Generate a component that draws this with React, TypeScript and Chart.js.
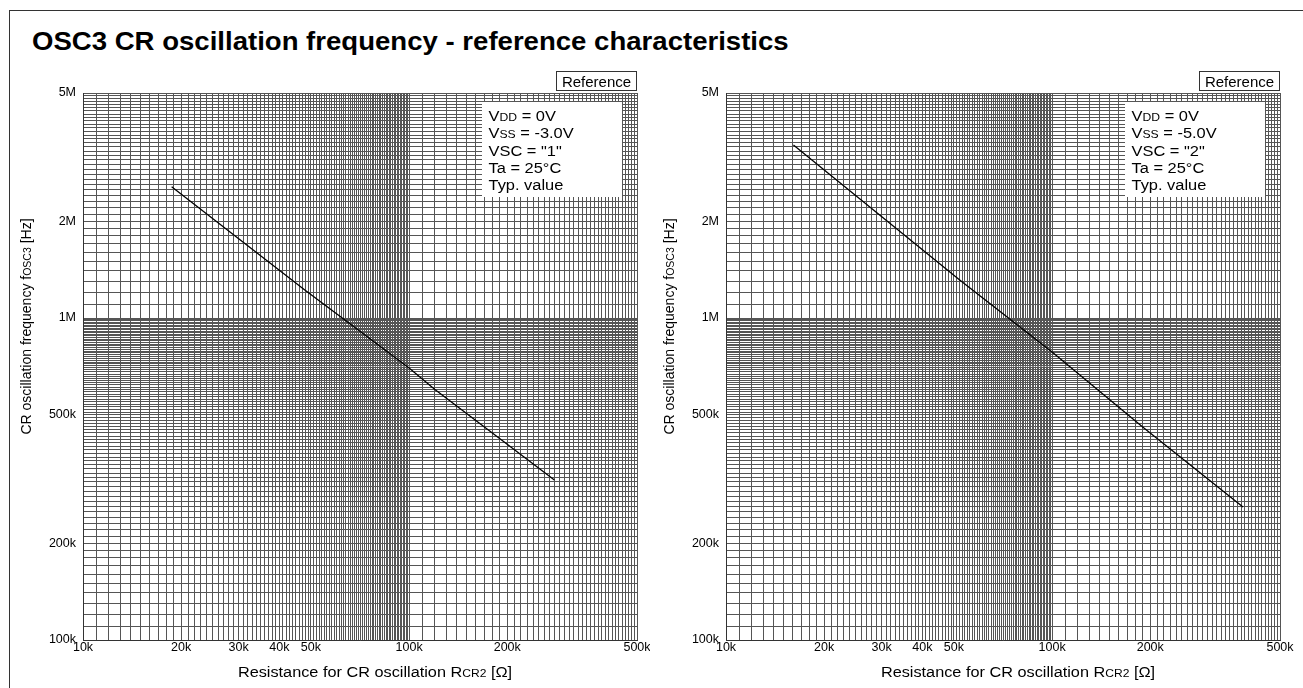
import React, { useEffect, useRef } from 'react';
import { Chart, registerables } from 'chart.js';

Chart.register(...registerables);

const FAMILY = '"Liberation Sans", Arial, Helvetica, sans-serif';

// Axis ranges and labelled ticks
const X_MIN = 10000;
const X_MAX = 500000;
const Y_MIN = 100000;
const Y_MAX = 5000000;
const X_LABEL_VALUES = [10000, 20000, 30000, 40000, 50000, 100000, 200000, 500000];
const X_LABELS = ['10k', '20k', '30k', '40k', '50k', '100k', '200k', '500k'];
const Y_LABEL_VALUES = [100000, 200000, 500000, 1000000, 2000000, 5000000];
const Y_LABELS = ['100k', '200k', '500k', '1M', '2M', '5M'];

// Grid line spacing per decade segment: [from, to, step]
const X_GRID_RANGES: number[][] = [[10000, 100000, 1000], [100000, 500000, 10000]];
const Y_GRID_RANGES: number[][] = [[100000, 1000000, 10000], [1000000, 5000000, 100000]];

// Series: resistance [ohm] vs frequency [Hz]
const R_LEFT = [18700, 48000, 100000, 120000, 279000];
const F_LEFT = [2558000, 1220000, 700000, 600000, 314000];
const R_RIGHT = [16100, 52200, 100000, 190000, 385000];
const F_RIGHT = [3447000, 1310000, 785000, 458000, 259000];

type Seg = [string, boolean];
const COND_LEFT: Seg[][] = [
  [['V', false], ['DD', true], [' = 0V', false]],
  [['V', false], ['SS', true], [' = -3.0V', false]],
  [['VSC = "1"', false]],
  [['Ta = 25°C', false]],
  [['Typ. value', false]],
];
const COND_RIGHT: Seg[][] = [
  [['V', false], ['DD', true], [' = 0V', false]],
  [['V', false], ['SS', true], [' = -5.0V', false]],
  [['VSC = "2"', false]],
  [['Ta = 25°C', false]],
  [['Typ. value', false]],
];
const X_TITLE: Seg[] = [['Resistance for CR oscillation R', false], ['CR2', true], [' [Ω]', false]];
const Y_TITLE: Seg[] = [['CR oscillation frequency f', false], ['OSC3', true], [' [Hz]', false]];
const TITLE = 'OSC3 CR oscillation frequency - reference characteristics';
const REF_TEXT = 'Reference';

function buildGrid(ranges: number[][]): number[] {
  const out: number[] = [];
  for (const [a, b, s] of ranges) {
    for (let v = a; v <= b; v += s) if (!out.includes(v)) out.push(v);
  }
  return out;
}
const GRID_X = buildGrid(X_GRID_RANGES);
const GRID_Y = buildGrid(Y_GRID_RANGES);

function segWidth(ctx: CanvasRenderingContext2D, segs: Seg[], big: number, small: number) {
  let w = 0;
  for (const [t, s] of segs) {
    ctx.font = `${s ? small : big}px ${FAMILY}`;
    w += ctx.measureText(t).width;
  }
  return w;
}
function drawSegs(ctx: CanvasRenderingContext2D, segs: Seg[], x: number, y: number, big: number, small: number, sx = 1) {
  ctx.save();
  ctx.translate(x, y);
  ctx.scale(sx, 1);
  let cx = 0;
  for (const [t, s] of segs) {
    ctx.font = `${s ? small : big}px ${FAMILY}`;
    ctx.fillText(t, cx, 0);
    cx += ctx.measureText(t).width;
  }
  ctx.restore();
}

function makeDecorPlugin(cond: Seg[][]) {
  return {
    id: 'decor',
    afterDraw(chart: any) {
      const ctx: CanvasRenderingContext2D = chart.ctx;
      const a = chart.chartArea;
      ctx.save();
      ctx.fillStyle = '#000';
      ctx.textAlign = 'left';
      ctx.textBaseline = 'alphabetic';
      // conditions box
      const bx = Math.round(a.right) - 155;
      const by = Math.round(a.top) + 9;
      ctx.fillStyle = '#fff';
      ctx.fillRect(bx, by, 140, 95);
      ctx.fillStyle = '#000';
      cond.forEach((line, i) => {
        drawSegs(ctx, line, bx + 6.5, by + 19 + i * 17.25, 15.5, 11.5, 1.06);
      });
      // Reference box
      const rx = Math.round(a.right) - 81;
      const ry = Math.round(a.top) - 22;
      ctx.strokeStyle = '#333';
      ctx.lineWidth = 1;
      ctx.strokeRect(rx + 0.5, ry + 0.5, 80, 19);
      ctx.font = `15px ${FAMILY}`;
      const rw = ctx.measureText(REF_TEXT).width;
      drawSegs(ctx, [[REF_TEXT, false]], rx + 40.5 - rw / 2, ry + 16, 15, 15, 1);
      // x title
      const XS = 1.05;
      const xw = segWidth(ctx, X_TITLE, 15.5, 11.5) * XS;
      drawSegs(ctx, X_TITLE, (a.left + a.right) / 2 + 15 - xw / 2, a.bottom + 37, 15.5, 11.5, XS);
      // y title
      const yw = segWidth(ctx, Y_TITLE, 14, 10.5);
      ctx.translate(a.left - 52.5, (a.top + a.bottom) / 2 - 40);
      ctx.rotate(-Math.PI / 2);
      drawSegs(ctx, Y_TITLE, -yw / 2, 0, 14, 10.5, 1);
      ctx.restore();
    },
  };
}

function makeConfig(xs: number[], ys: number[], cond: Seg[][], rightPad: number): any {
  const tickFont = { family: FAMILY, size: 12.5 };
  const gridColor = '#555';
  return {
    type: 'scatter',
    data: {
      datasets: [
        {
          data: xs.map((x, i) => ({ x, y: ys[i] })),
          showLine: true,
          borderColor: '#000',
          borderWidth: 1.3,
          pointRadius: 0,
          pointHoverRadius: 0,
          tension: 0,
        },
      ],
    },
    options: {
      responsive: false,
      animation: false,
      layout: { padding: { left: 0, top: 37, right: rightPad, bottom: 0 } },
      plugins: { legend: { display: false }, tooltip: { enabled: false } },
      events: [],
      scales: {
        x: {
          type: 'logarithmic',
          min: X_MIN,
          max: X_MAX,
          afterBuildTicks: (s: any) => {
            s.ticks = GRID_X.map((v) => ({ value: v }));
          },
          afterFit: (s: any) => {
            s.height = 48;
            s.paddingLeft = 0;
            s.paddingRight = 0;
          },
          ticks: {
            autoSkip: false,
            maxRotation: 0,
            minRotation: 0,
            padding: 0,
            color: '#000',
            font: tickFont,
            callback: (v: any) => {
              const i = X_LABEL_VALUES.indexOf(Number(v));
              return i >= 0 ? X_LABELS[i] : '';
            },
          },
          grid: { color: gridColor, lineWidth: 1, drawTicks: false },
          border: { display: true, color: '#333', width: 1 },
        },
        y: {
          type: 'logarithmic',
          min: Y_MIN,
          max: Y_MAX,
          afterBuildTicks: (s: any) => {
            s.ticks = GRID_Y.map((v) => ({ value: v }));
          },
          afterFit: (s: any) => {
            s.width = 83;
            s.paddingTop = 0;
            s.paddingBottom = 0;
          },
          ticks: {
            autoSkip: false,
            padding: 7,
            color: '#000',
            font: tickFont,
            callback: (v: any) => {
              const i = Y_LABEL_VALUES.indexOf(Number(v));
              return i >= 0 ? Y_LABELS[i] : '';
            },
          },
          grid: { color: gridColor, lineWidth: 1, drawTicks: false },
          border: { display: true, color: '#333', width: 1 },
        },
      },
    },
    plugins: [makeDecorPlugin(cond)],
  };
}

function LogChart(props: { left: number; width: number; rightPad: number; xs: number[]; ys: number[]; cond: Seg[][] }) {
  const ref = useRef<HTMLCanvasElement | null>(null);
  useEffect(() => {
    if (!ref.current) return;
    const chart = new Chart(ref.current, makeConfig(props.xs, props.ys, props.cond, props.rightPad));
    return () => chart.destroy();
  }, []);
  return (
    <canvas
      ref={ref}
      width={props.width}
      height={632}
      style={{ position: 'absolute', left: props.left, top: 56, width: props.width, height: 632 }}
    />
  );
}

export default function App() {
  return (
    <div style={{ position: 'fixed', left: 0, top: 0, width: 1303, height: 688, overflow: 'hidden', background: '#fff' }}>
      <div
        style={{
          position: 'absolute',
          left: 9,
          top: 10,
          width: 1400,
          height: 800,
          borderLeft: '1px solid #333',
          borderTop: '1px solid #333',
        }}
      />
      <div
        style={{
          position: 'absolute',
          left: 32,
          top: 27.5,
          font: `bold 26px ${FAMILY}`,
          lineHeight: '26px',
          color: '#000',
          whiteSpace: 'nowrap',
          transform: 'scaleX(1.06)',
          transformOrigin: 'left top',
        }}
      >
        {TITLE}
      </div>
      <LogChart left={0} width={650} rightPad={13} xs={R_LEFT} ys={F_LEFT} cond={COND_LEFT} />
      <LogChart left={643} width={660} rightPad={23} xs={R_RIGHT} ys={F_RIGHT} cond={COND_RIGHT} />
    </div>
  );
}
